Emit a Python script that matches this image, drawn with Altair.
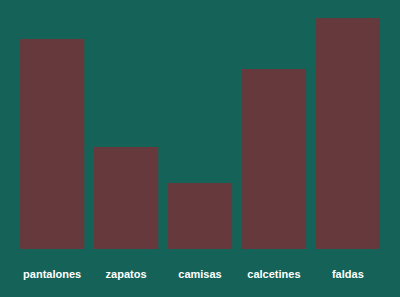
import altair as alt
import pandas as pd

categories = ["pantalones", "zapatos", "camisas", "calcetines", "faldas"]
values = [210, 102, 66, 180, 231]

df = pd.DataFrame({"categoria": categories, "valor": values})

chart = (
    alt.Chart(df)
    .mark_bar(color="#663a3c")
    .encode(
        x=alt.X(
            "categoria:N",
            sort=categories,
            scale=alt.Scale(paddingInner=0.13, paddingOuter=0),
            axis=alt.Axis(
                title=None,
                labelAngle=0,
                domain=False,
                ticks=False,
                grid=False,
                labelColor="white",
                labelFont="Liberation Sans",
                labelFontWeight="bold",
                labelFontSize=11,
                labelPadding=19,
            ),
        ),
        y=alt.Y(
            "valor:Q",
            scale=alt.Scale(domain=[0, 231], nice=False),
            axis=None,
        ),
    )
    .properties(
        width=360,
        height=231,
        background="#156358",
        padding={"left": 20, "top": 18, "right": 20, "bottom": 48},
        autosize=alt.AutoSizeParams(type="none"),
    )
    .configure_view(stroke=None)
)

chart.save("out.html", embed_options={"renderer": "svg", "actions": False})
